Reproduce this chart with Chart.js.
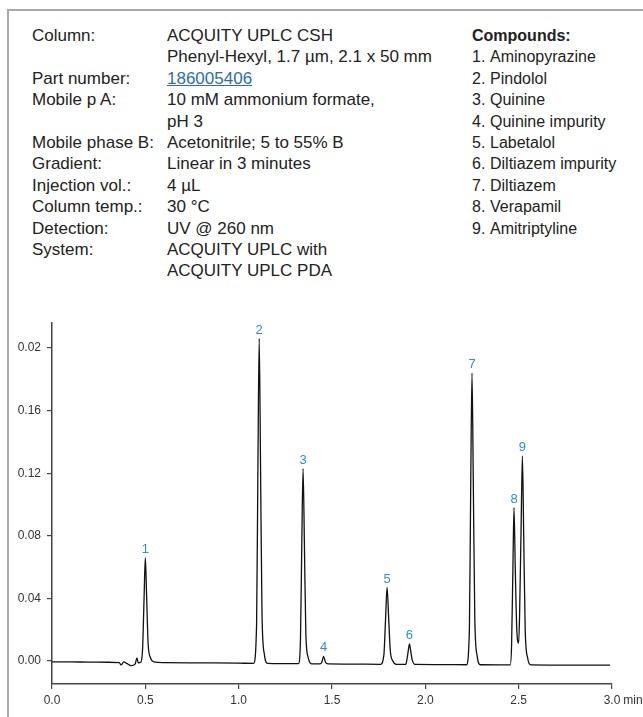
<!DOCTYPE html>
<html>
<head>
<meta charset="utf-8">
<script src="https://cdn.jsdelivr.net/npm/chart.js@4.4.1/dist/chart.umd.min.js"></script>
<style>
  body { margin: 0; width: 643px; height: 717px; background: #fff; position: relative; overflow: hidden;
         font-family: "Liberation Sans", Arial, sans-serif; color: #222; }
  #frame { position: absolute; left: 7px; top: 9px; width: 640px; height: 720px;
           border-left: 2px solid #a8a8a8; border-top: 2px solid #a8a8a8; }
  .block { position: absolute; top: 25px; font-size: 17px; line-height: 21.4px; }
  .row { display: flex; white-space: nowrap; }
  .row .k { width: 135px; }
  #conds { left: 472px; font-size: 16px; }
  #conds .k { width: 18px; }
  a { color: #2b6cb5; }
  #wrap { position: absolute; left: 0; top: 290px; width: 643px; height: 427px; }
</style>
</head>
<body>
<div id="frame"></div>
<div class="block" id="info" style="left:32px"></div>
<div class="block" id="conds"></div>
<div id="wrap"><canvas id="myChart"></canvas></div>
<script>
// method text
const infoLabels = ["Column:", "", "Part number:", "Mobile p A:", "", "Mobile phase B:", "Gradient:",
  "Injection vol.:", "Column temp.:", "Detection:", "System:", ""];
const infoValues = ["ACQUITY UPLC CSH", "Phenyl-Hexyl, 1.7 µm, 2.1 x 50 mm", "186005406",
  "10 mM ammonium formate,", "pH 3", "Acetonitrile; 5 to 55% B", "Linear in 3 minutes",
  "4 µL", "30 °C", "UV @ 260 nm", "ACQUITY UPLC with", "ACQUITY UPLC PDA"];
const compounds = ["Aminopyrazine", "Pindolol", "Quinine", "Quinine impurity", "Labetalol",
  "Diltiazem impurity", "Diltiazem", "Verapamil", "Amitriptyline"];

// peaks
const peakNames = ["1", "2", "3", "4", "5", "6", "7", "8", "9"];
const peakTimes = [0.50, 1.11, 1.345, 1.455, 1.795, 1.915, 2.25, 2.475, 2.52];
const peakHeights = [0.066, 0.206, 0.123, 0.003, 0.047, 0.011, 0.184, 0.098, 0.131];

// chromatogram trace (min, AU)
const traceTime = [0.00, 0.10, 0.20, 0.30, 0.36, 0.37, 0.385, 0.40, 0.425, 0.445, 0.455, 0.462, 0.475,
  0.485, 0.493, 0.500, 0.507, 0.515, 0.528, 0.545, 0.60, 0.80, 1.00, 1.08,
  1.096, 1.103, 1.110, 1.117, 1.125, 1.138, 1.155, 1.30, 1.32,
  1.331, 1.338, 1.345, 1.352, 1.360, 1.373, 1.39, 1.435,
  1.445, 1.455, 1.465, 1.48, 1.60, 1.76,
  1.778, 1.787, 1.795, 1.803, 1.812, 1.826, 1.845, 1.895,
  1.903, 1.909, 1.915, 1.921, 1.929, 1.945, 2.10, 2.22,
  2.236, 2.243, 2.250, 2.257, 2.265, 2.278, 2.295, 2.44, 2.455,
  2.462, 2.469, 2.475, 2.482, 2.490, 2.500,
  2.505, 2.513, 2.520, 2.527, 2.535, 2.548, 2.565, 2.70, 2.99];
const traceSignal = [-0.0005, -0.0006, -0.0007, -0.0008, -0.0010, -0.0025, -0.0005, -0.0015, -0.0030, -0.0020, 0.0020, -0.0012, -0.0008,
  0.007, 0.039, 0.066, 0.041, 0.011, 0.002, -0.0005, -0.0010, -0.0012, -0.0014, -0.0015,
  0.023, 0.123, 0.206, 0.127, 0.030, 0.004, -0.0015, -0.0017, -0.0017,
  0.013, 0.073, 0.123, 0.076, 0.017, 0.002, -0.0018, -0.0019,
  -0.0010, 0.0030, -0.0008, -0.0019, -0.0020, -0.0021,
  0.004, 0.027, 0.047, 0.029, 0.007, 0.000, -0.0021, -0.0022,
  0.002, 0.007, 0.011, 0.007, 0.001, -0.0022, -0.0023, -0.0024,
  0.020, 0.110, 0.184, 0.114, 0.027, 0.003, -0.0024, -0.0025, -0.0025,
  0.010, 0.058, 0.098, 0.058, 0.020, 0.0115,
  0.030, 0.085, 0.131, 0.080, 0.020, 0.002, -0.0025, -0.0026, -0.0027];

// axis ticks (top label really reads 0.02 in the original)
const xTickValues = [0, 0.5, 1.0, 1.5, 2.0, 2.5, 3.0];
const xTickLabels = ["0.0", "0.5", "1.0", "1.5", "2.0", "2.5", "3.0"];
const yTickValues = [0, 0.04, 0.08, 0.12, 0.16, 0.20];
const yTickLabels = ["0.00", "0.04", "0.08", "0.12", "0.16", "0.02"];

// text block
const info = document.getElementById("info");
infoLabels.forEach((lab, i) => {
  const val = i === 2 ? '<a href="#">' + infoValues[i] + "</a>" : infoValues[i];
  info.innerHTML += '<div class="row"><span class="k">' + lab + "</span><span>" + val + "</span></div>";
});
const conds = document.getElementById("conds");
conds.innerHTML = '<div class="row"><b>Compounds:</b></div>';
compounds.forEach((c, i) => {
  conds.innerHTML += '<div class="row"><span class="k">' + (i + 1) + ".</span><span>" + c + "</span></div>";
});

const peakLabels = {
  id: "peakLabels",
  afterDatasetsDraw(chart) {
    const c = chart.ctx, xs = chart.scales.x, ys = chart.scales.y;
    c.save();
    c.font = '13px "Liberation Sans", Arial, sans-serif';
    c.fillStyle = "#2b8fc9";
    c.textAlign = "center";
    c.textBaseline = "bottom";
    peakNames.forEach((n, i) => {
      c.fillText(n, xs.getPixelForValue(peakTimes[i]), ys.getPixelForValue(peakHeights[i]) - 2);
    });
    // unit after the last x label
    c.font = '12px "Liberation Sans", Arial, sans-serif';
    c.fillStyle = "#333";
    c.textAlign = "left";
    c.textBaseline = "middle";
    const xl = xs.getPixelForValue(3.0) + c.measureText("3.0").width / 2 + 3;
    c.fillText("min", xl, xs.bottom - 16);
    c.restore();
  },
};

const ctx = document.getElementById("myChart").getContext("2d");
const tickFont = { family: '"Liberation Sans", Arial, sans-serif', size: 12 };
new Chart(ctx, {
  type: "line",
  data: {
    datasets: [{
      data: traceTime.map((t, i) => ({ x: t, y: traceSignal[i] })),
      borderColor: "#111",
      borderWidth: 1.3,
      pointRadius: 0,
      cubicInterpolationMode: "monotone",
    }],
  },
  options: {
    responsive: true,
    maintainAspectRatio: false,
    animation: false,
    layout: { padding: { top: 33, right: 31, left: 0, bottom: 0 } },
    plugins: { legend: { display: false }, tooltip: { enabled: false } },
    scales: {
      x: {
        type: "linear",
        min: 0,
        max: 3.0,
        afterBuildTicks: (s) => { s.ticks = xTickValues.map((v) => ({ value: v })); },
        afterFit: (s) => { s.height = 33; },
        ticks: { callback: (v, i) => xTickLabels[i], color: "#333", font: tickFont, padding: 4, maxRotation: 0 },
        grid: { drawOnChartArea: false, tickLength: 5, color: "#444", lineWidth: 1.2 },
        border: { color: "#444", width: 1.5 },
      },
      y: {
        min: -0.0147,
        max: 0.216,
        afterBuildTicks: (s) => { s.ticks = yTickValues.map((v) => ({ value: v })); },
        afterFit: (s) => { s.width = 52; },
        ticks: { callback: (v, i) => yTickLabels[i], color: "#333", font: tickFont, padding: 6 },
        grid: { drawOnChartArea: false, tickLength: 5, color: "#444", lineWidth: 1.2 },
        border: { color: "#444", width: 1.5 },
      },
    },
  },
  plugins: [peakLabels],
});
</script>
</body>
</html>
